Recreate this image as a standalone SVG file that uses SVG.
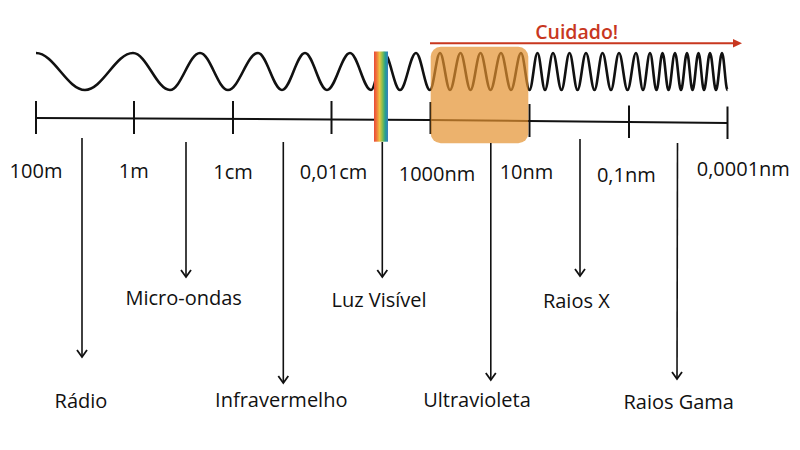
<svg xmlns="http://www.w3.org/2000/svg" width="800" height="450" viewBox="0 0 800 450">
<defs>
<style>
.lbl{font-family:"Open Sans","Liberation Sans",sans-serif;font-size:20px;fill:#111;text-anchor:middle}
.ax{stroke:#111;stroke-width:2;fill:none}
.arr{stroke:#111;stroke-width:1.6;fill:none;marker-end:url(#vee)}
</style>
<marker id="vee" markerUnits="userSpaceOnUse" markerWidth="14" markerHeight="14" refX="0" refY="0" viewBox="-9 -7 11 14" orient="auto">
<path d="M-7,-5 L0,0 L-7,5" fill="none" stroke="#111" stroke-width="1.8"/>
</marker>
<linearGradient id="rainbow" x1="0" y1="0" x2="1" y2="0">
<stop offset="0" stop-color="#E8483A"/>
<stop offset="0.2" stop-color="#F07A3A"/>
<stop offset="0.4" stop-color="#EAC445"/>
<stop offset="0.6" stop-color="#86BC4E"/>
<stop offset="0.8" stop-color="#23A08E"/>
<stop offset="1" stop-color="#3A7CC0"/>
</linearGradient>
</defs>
<rect width="800" height="450" fill="#fff"/>
<g id="wave">
<path fill="none" stroke="#111" stroke-width="2.6" d="M36,53 C53.8,53 67.2,90 85,90 C102.4,90 115.6,53 133,53 C146.4,53 156.6,90 170,90 C180.9,90 189.1,53 200,53 C210.2,53 217.8,90 228,90 C238.9,90 247.1,53 258,53 C266.7,53 273.3,90 282,90 C290.4,90 296.6,53 305,53 C313,53 319,90 327,90 C335.4,90 341.6,53 350,53 C357.6,53 363.4,90 371,90 C375.7,90 379.3,53 384,53 C389.8,53 394.2,90 400,90 C405.8,90 410.2,53 416,53 C421.1,53 424.9,90 430,90 C433.6,90 436.4,53 440,53 C443.6,53 446.4,90 450,90 C453.8,90 456.7,53 460.5,53 C464.1,53 466.9,90 470.5,90 C474.1,90 476.9,53 480.5,53 C484.1,53 486.9,90 490.5,90 C494.3,90 497.2,53 501,53 C504.6,53 507.4,90 511,90 C514.6,90 517.4,53 521,53 C524.1,53 526.4,90 529.5,90 C532.4,90 534.6,53 537.5,53 C540.2,53 542.3,90 545,90 C547.9,90 550.1,53 553,53 C556.1,53 558.4,90 561.5,90 C564.4,90 566.6,53 569.5,53 C572.4,53 574.6,90 577.5,90 C580.6,90 582.9,53 586,53 C589.1,53 591.4,90 594.5,90 C597.4,90 599.6,53 602.5,53 C605.6,53 607.9,90 611,90 C613.9,90 616.1,53 619,53 C622.1,53 624.4,90 627.5,90 C630.6,90 632.9,53 636,53 C638.5,53 640.5,90 643,90 C645.5,90 647.5,53 650,53 C652.4,53 654.1,90 656.5,90 C658.7,90 660.3,53 662.5,53 C664.7,53 666.3,90 668.5,90 C670.9,90 672.6,53 675,53 C677.2,53 678.8,90 681,90 C683.2,90 684.8,53 687,53 C689,53 690.5,90 692.5,90 C694.7,90 696.3,53 698.5,53 C700.5,53 702,90 704,90 C706.2,90 707.8,53 710,53 C712.2,53 713.8,90 716,90 C718.2,90 719.8,53 722,53 C724,53 725.5,90 727.5,90"/>
</g>
<g id="axis">
<path class="ax" d="M36,118 L331,119.5 L430,120 L529,121 L727.5,123"/>
<path class="ax" d="M36,101 V134 M134,101 V134 M233,101 V134 M331.5,101 V134 M430.5,102 V134 M529.5,104 V137 M629,105.5 V138 M727.5,106.5 V139"/>
</g>
<g id="uv-highlight">
<rect x="430.7" y="46.7" width="97.6" height="96.6" rx="10" fill="#E4912F" fill-opacity="0.7"/>
</g>
<g id="visible-band">
<rect x="374" y="51.5" width="14" height="90.2" fill="url(#rainbow)"/>
</g>
<g id="cuidado">
<line x1="430" y1="43.3" x2="735" y2="43.3" stroke="#C8371F" stroke-width="2"/>
<polygon points="733,39 742,43.3 733,47.6" fill="#C8371F"/>
<text x="576.7" y="39.3" font-family="'Open Sans','Liberation Sans',sans-serif" font-size="19.5" font-weight="600" fill="#C8371F" text-anchor="middle">Cuidado!</text>
</g>
<g id="scale-labels">
<text class="lbl" x="36" y="178">100m</text>
<text class="lbl" x="133.8" y="178.3">1m</text>
<text class="lbl" x="233" y="179.3">1cm</text>
<text class="lbl" x="333.5" y="179">0,01cm</text>
<text class="lbl" x="437" y="180.7">1000nm</text>
<text class="lbl" x="526.5" y="179.3">10nm</text>
<text class="lbl" x="626.3" y="181.7">0,1nm</text>
<text class="lbl" x="743.3" y="176">0,0001nm</text>
</g>
<g id="connectors">
<line class="arr" x1="82" y1="138" x2="82" y2="357"/>
<line class="arr" x1="186" y1="142" x2="186" y2="277"/>
<line class="arr" x1="283.3" y1="142" x2="283.3" y2="383"/>
<line class="arr" x1="382.3" y1="142" x2="382.3" y2="277"/>
<line class="arr" x1="490.8" y1="143" x2="490.8" y2="380"/>
<line class="arr" x1="580" y1="139" x2="580" y2="276"/>
<line class="arr" x1="677.5" y1="143" x2="677" y2="379"/>
</g>
<g id="node-radio"><text class="lbl" x="81" y="408.3">Rádio</text></g>
<g id="node-micro"><text class="lbl" x="183.7" y="305">Micro-ondas</text></g>
<g id="node-infra"><text class="lbl" x="281.3" y="407.3">Infravermelho</text></g>
<g id="node-luz"><text class="lbl" x="379" y="306.7">Luz Visível</text></g>
<g id="node-uv"><text class="lbl" x="477" y="407.3">Ultravioleta</text></g>
<g id="node-x"><text class="lbl" x="576.3" y="308.3">Raios X</text></g>
<g id="node-gama"><text class="lbl" x="678.7" y="409.3">Raios Gama</text></g>
</svg>
